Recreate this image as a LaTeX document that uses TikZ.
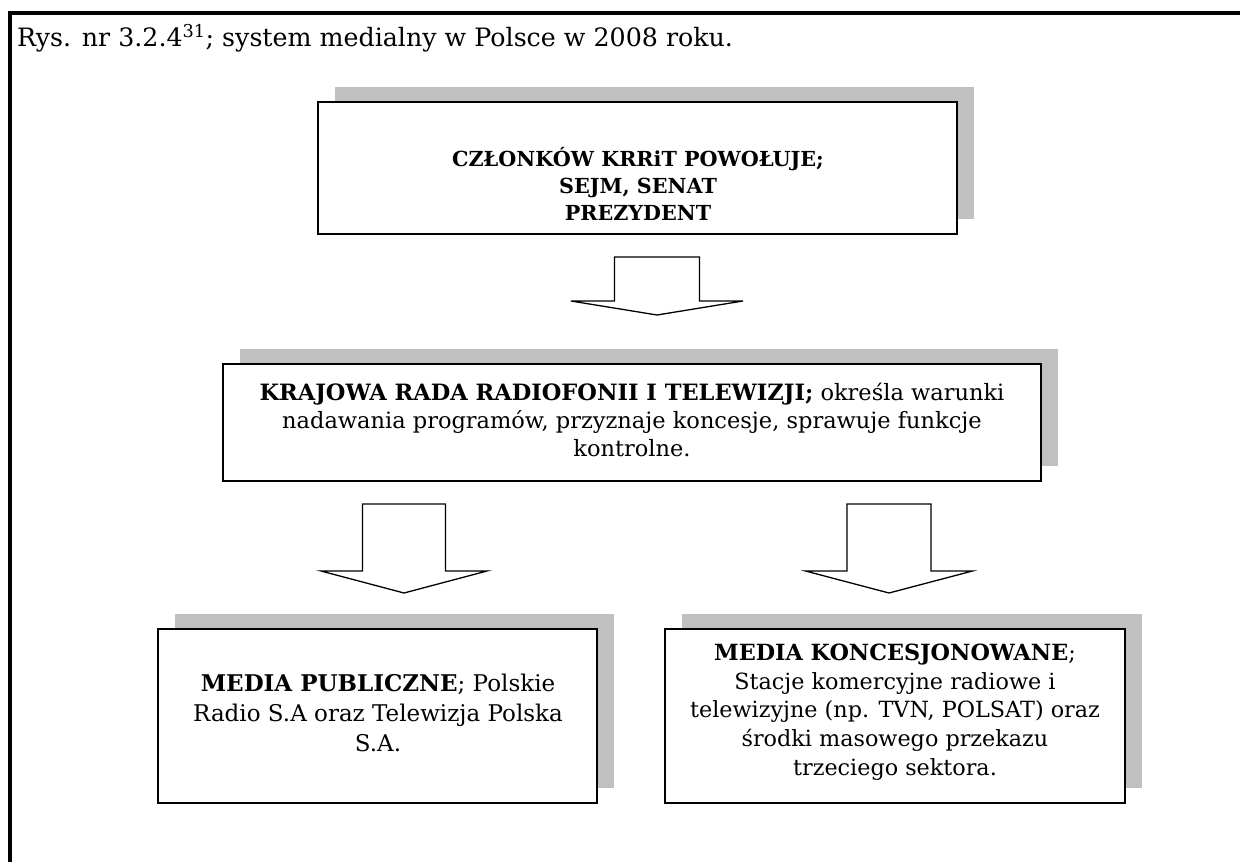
\documentclass[tikz,border=0pt]{standalone}
\usepackage{fontspec}
\setmainfont{DejaVu Serif}
\usetikzlibrary{shadows}
\definecolor{shadowgray}{RGB}{192,192,192}
\tikzset{
  framebox/.style={draw=black, line width=1.6pt, fill=white, inner sep=0pt,
    drop shadow={shadow xshift=16.5pt, shadow yshift=15.5pt, fill=shadowgray, opacity=1}},
  boxtext/.style={align=center, inner sep=0pt},
  pics/blockdown/.style n args={4}{code={
    % #1 shaft width, #2 head width, #3 shaft length, #4 head length
    \draw[line width=1.3pt, fill=white, line join=miter]
      (-#1/2,0) -- (#1/2,0) -- (#1/2,#3) -- (#2/2,#3) -- (0,#3+#4)
      -- (-#2/2,#3) -- (-#1/2,#3) -- cycle;
  }},
}
\begin{document}
\begin{tikzpicture}[x=1pt,y=-1pt]
\useasboundingbox (0,0) rectangle (1240,862);

% outer frame
\draw[line width=4pt] (10,862) -- (10,13) -- (1240,13);

% caption
\node[anchor=west, inner sep=0pt, font=\fontsize{25.3}{30}\selectfont] (title) at (17,38)
  {Rys. nr 3.2.4\textsuperscript{31}; system medialny w Polsce w 2008 roku.};

% boxes
\node[framebox, minimum width=639pt, minimum height=132pt] (b1) at (637.5,168) {};
\node[framebox, minimum width=818pt, minimum height=117pt] (b2) at (632,422.5) {};
\node[framebox, minimum width=439pt, minimum height=174pt] (b3) at (377.5,716) {};
\node[framebox, minimum width=460pt, minimum height=174pt] (b4) at (895,716) {};

% box texts
\node[boxtext, font=\fontsize{20.7}{27}\selectfont\bfseries] (t1) at (638,184)
  {CZŁONKÓW KRRiT POWOŁUJE;\\SEJM, SENAT\\PREZYDENT};
\node[boxtext, font=\fontsize{22.5}{28}\selectfont] (t2) at (632,420)
  {\textbf{KRAJOWA RADA RADIOFONII I TELEWIZJI;} określa warunki\\
   nadawania programów, przyznaje koncesje, sprawuje funkcje\\
   kontrolne.};
\node[boxtext, font=\fontsize{23}{30}\selectfont] (t3) at (378,713)
  {\textbf{MEDIA PUBLICZNE}; Polskie\\Radio S.A oraz Telewizja Polska\\S.A.};
\node[boxtext, font=\fontsize{22.3}{28.7}\selectfont] (t4) at (895,712)
  {\textbf{MEDIA KONCESJONOWANE};\\Stacje komercyjne radiowe i\\
   telewizyjne (np. TVN, POLSAT) oraz\\środki masowego przekazu\\
   trzeciego sektora.};

% block arrows
\pic at (657,257) {blockdown={85}{172}{44}{14}};
\pic at (404,504) {blockdown={83}{166}{67}{22}};
\pic at (889,504) {blockdown={84}{167}{67}{22}};
\end{tikzpicture}
\end{document}
